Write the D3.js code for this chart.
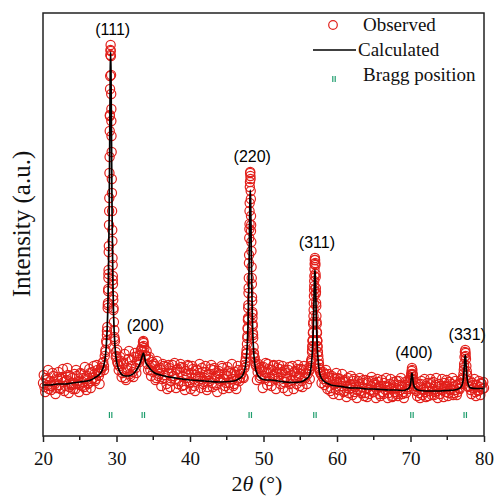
<!DOCTYPE html>
<html>
<head>
<meta charset="utf-8">
<script src="https://cdn.jsdelivr.net/npm/d3@7"></script>
<style>
  body { margin: 0; background: #fff; }
  svg { display: block; }
</style>
</head>
<body>
<svg id="chart" width="494" height="498"></svg>
<script>
// XRD refinement plot: observed points, calculated profile, Bragg positions

var width = 494;
var height = 498;
var margin = { top: 13, right: 10, bottom: 62, left: 43 };
var obsColor = "#e2201b";
var braggColor = "#1f9e6e";
var serif = "'Liberation Serif', 'Times New Roman', serif";

// observed counts on a 0.2 deg step starting at 20.0 ...
var obsStart = 20;
var obsStep = 0.2;
var obsGrid = [
  53,49,58,51,47, 55,50,60,52,48, 57,51,47,59,54, 50,56,61,49,53,
  58,52,47,60,55, 51,62,54,49,57, 60,53,63,55,58, 62,57,66,60,64,
  68,74,80,95,128, 225,391,225,128,95, 80,72,70,75,63, 72,58,66,77,62,
  70,64,79,68,74, 76,81,86,94,88, 80,72,77,66,71, 64,70,58,67,62,
  66,57,70,61,52, 63,68,55,71,60, 57,66,52,64,69, 60,51,65,58,70,
  54,63,67,50,61, 66,55,59,68,52, 58,64,49,62,67, 53,66,58,51,63,
  62,55,68,57,50, 60,65,53,63,57, 52,61,56,66,58, 62,59,68,78,98,
  158,264,158,98,78, 70,64,68,60,66, 69,58,63,72,55, 66,60,71,57,64,
  58,67,62,70,54, 63,57,66,52,61, 56,64,59,67,60, 62,55,66,59,63,
  62,66,70,84,120, 178,120,84,68,62, 60,57,62,54,59, 55,48,58,52,47,
  53,46,57,50,55, 45,54,50,43,52, 48,55,44,51,46, 52,45,49,56,43,
  47,53,42,50,55, 44,51,47,54,42, 50,44,53,46,49, 43,52,47,40,51,
  48,42,55,46,50, 44,51,43,49,47, 55,68,56,50,45, 49,43,52,41,47,
  44,50,40,48,53, 47,41,51,45,49, 42,50,46,53,44, 49,43,47,52,41,
  46,51,44,48,53, 52,62,84,70,55, 50,46,53,48,44, 51,45,49,53,47,
  48
];

// ... and the interleaved points, 20.1 -> 79.9
var obsStartB = 20.1;
var obsGridB = [
  61,44,56,66,50, 46,63,54,42,59, 64,48,57,67,45, 55,68,43,60,51,
  47,62,66,52,44, 63,50,58,69,46, 52,67,48,64,70, 55,71,63,52,68,
  73,66,86,101,158, 320,315,160,106,84, 86,66,79,59,73, 82,56,68,85,60,
  76,59,83,63,80, 74,86,84,90,81, 85,66,79,60,74, 72,56,75,60,68,
  50,72,58,69,47, 71,49,65,60,73, 48,67,55,72,50, 68,46,62,71,53,
  47,70,57,45,66, 59,72,48,64,54, 70,46,61,55,71, 49,68,60,44,65,
  57,70,47,62,53, 69,48,63,72,50, 64,47,70,55,62, 66,58,71,83,117,
  212,205,118,82,74, 56,72,58,69,48, 64,73,51,67,59, 50,70,61,47,68,
  71,52,64,48,66, 59,45,69,55,70, 47,65,52,71,50, 67,49,70,58,52,
  68,57,75,95,150, 142,95,76,66,53, 64,51,66,47,62, 45,60,42,57,63,
  58,41,54,62,44, 56,39,58,47,60, 41,57,49,38,55, 58,43,53,40,56,
  39,55,46,59,44, 53,38,57,49,40, 56,42,50,58,38, 49,57,39,54,44,
  55,40,51,58,42, 38,54,47,56,52, 61,62,47,53,40, 52,38,55,46,57,
  39,53,45,57,41, 54,44,58,38,52, 47,57,39,50,56, 40,54,46,58,43,
  55,41,52,47,56, 58,69,80,61,49, 55,42,51,57,40, 46,55,41,52,54
];

// extra observed points measured on the peak flanks
var obsFine = [
  [28.3,70],[28.5,84],[28.65,93],[28.7,105],[28.75,109],[28.82,131],[28.84,133],[28.86,145],
  [28.88,147],[28.9,162],[28.92,166],[28.94,184],[28.96,190],[28.98,211],[29.02,238],[29.04,263],
  [29.06,279],[29.08,305],[29.1,321],[29.12,347],[29.14,360],[29.16,381],[29.18,386],[29.22,385],
  [29.24,380],[29.26,361],[29.28,342],[29.3,327],[29.32,300],[29.34,284],[29.36,257],[29.38,243],
  [29.42,206],[29.44,195],[29.46,178],[29.48,171],[29.5,156],[29.52,152],[29.54,140],[29.56,136],
  [29.58,126],[29.65,114],[29.7,99],[29.75,97],[29.9,79],[30.1,74],
  [33.5,89],[33.65,95],[33.7,93],
  [47.5,74],[47.65,82],[47.7,86],[47.75,92],[47.82,100],[47.84,108],[47.86,107],[47.88,116],
  [47.9,118],[47.92,128],[47.94,131],[47.96,143],[47.98,148],[48.02,173],[48.04,181],[48.06,198],
  [48.08,207],[48.1,225],[48.12,233],[48.14,249],[48.16,254],[48.18,263],[48.22,260],[48.24,257],
  [48.26,245],[48.28,237],[48.3,220],[48.32,211],[48.34,194],[48.36,185],[48.38,169],[48.42,152],
  [48.44,139],[48.46,135],[48.48,124],[48.5,122],[48.52,112],[48.54,110],[48.56,103],[48.58,101],
  [48.65,89],[48.7,83],[48.75,79],[48.9,72],
  [56.3,66],[56.45,73],[56.5,75],[56.55,77],[56.62,86],[56.64,90],[56.66,89],[56.68,95],
  [56.7,96],[56.72,103],[56.74,104],[56.76,112],[56.78,114],[56.82,126],[56.84,133],[56.86,140],
  [56.88,146],[56.9,155],[56.92,160],[56.94,167],[56.96,172],[56.98,176],[57.02,176],[57.04,173],
  [57.06,171],[57.08,162],[57.1,159],[57.12,148],[57.14,144],[57.16,133],[57.18,130],[57.22,114],
  [57.24,112],[57.26,104],[57.28,103],[57.3,96],[57.32,95],[57.34,90],[57.36,89],[57.38,84],
  [57.45,80],[57.5,72],[57.55,72],[57.7,64],
  [70.05,58],[70.1,62],[70.15,65],[70.25,66],[70.3,61],[70.35,57],
  [77.25,66],[77.3,72],[77.35,79],[77.45,86],[77.5,83],[77.55,77],[77.65,65],[77.7,61]
];

// calculated profile [2theta, intensity]
var calcProfile = [
  [20,51],[21,51],[22,52],[23,52],[24,53],[25,54],[26,55],[26.5,56],[27,58],[27.6,61],[28,65],
  [28.4,75],[28.6,89],[28.8,122],[28.9,157],[29,220],[29.05,266],[29.1,318],[29.15,365],[29.2,384],
  [29.25,365],[29.3,318],[29.35,266],[29.4,220],[29.5,157],[29.6,122],[29.8,89],[30,75],[30.4,65],
  [30.8,61],[31.2,60],[31.6,60],[32,61],[32.4,63],[32.8,67],[33.1,71],[33.3,75],[33.5,80],[33.65,83],
  [33.8,79],[34,73],[34.3,70],[34.7,66],[35.2,63],[36,61],[38,58],[40,56],[42,55],[44,54],[46,55],
  [46.6,57],[47,59],[47.4,65],[47.6,73],[47.8,92],[47.9,113],[48,150],[48.05,177],[48.1,208],
  [48.15,235],[48.2,246],[48.25,235],[48.3,208],[48.35,177],[48.4,150],[48.5,113],[48.6,92],
  [48.8,73],[49,65],[49.4,59],[49.8,57],[50.4,56],[51,56],[52,55],[53,54],[54,53.5],[55,54],
  [55.4,55],[55.8,57],[56.2,60],[56.4,65],[56.6,79],[56.7,92],[56.8,114],[56.85,130],[56.9,146],
  [56.95,160],[57,166],[57.05,160],[57.1,146],[57.15,130],[57.2,114],[57.3,92],[57.4,79],[57.6,64],
  [57.8,59],[58.2,55],[58.6,53],[59.2,51],[60,50],[61,49],[62,48],[63,48],[64,47],[65,47],
  [66,46.5],[67,46],[68,46],[69,45.5],[69.5,46.5],[69.7,47.4],[69.9,49.4],[70,52],[70.05,54.5],
  [70.1,58],[70.15,61],[70.2,63],[70.25,61],[70.3,58],[70.35,54.5],[70.4,52],[70.5,49.4],
  [70.7,47.4],[71,46],[72,45],[73,45],[74,45],[75,45.5],[76,46],[76.75,48.2],[77,50.8],
  [77.15,55.4],[77.25,61.6],[77.3,66.6],[77.35,72.7],[77.4,78.6],[77.45,81],[77.5,78.6],
  [77.55,72.7],[77.6,66.6],[77.65,61.6],[77.75,55.4],[77.9,50.8],[78.15,48.2],[79,47.5],[80,47.5]
];

var braggPos = [29.2, 33.65, 48.2, 57.0, 70.2, 77.45];
var hklLabels = ["(111)", "(200)", "(220)", "(311)", "(400)", "(331)"];
var xTicks = [20, 30, 40, 50, 60, 70, 80];
var xMinorTicks = [25, 35, 45, 55, 65, 75];

var observed = obsGrid.map((v, i) => [obsStart + i * obsStep, v])
  .concat(obsGridB.map((v, i) => [obsStartB + i * obsStep, v]))
  .concat(obsFine);

var svg = d3.select("#chart");
var x = d3.scaleLinear().domain([20, 80]).range([margin.left, width - margin.right]);
var y = d3.scaleLinear().domain([0, 423]).range([height - margin.bottom, margin.top]);

// observed
svg.append("g")
  .selectAll("circle")
  .data(observed)
  .enter().append("circle")
  .attr("cx", d => x(d[0]))
  .attr("cy", d => y(d[1]))
  .attr("r", 4.6)
  .attr("fill", "none")
  .attr("stroke", obsColor)
  .attr("stroke-width", 1.2);

// calculated
var line = d3.line().x(d => x(d[0])).y(d => y(d[1])).curve(d3.curveMonotoneX);
svg.append("path")
  .datum(calcProfile)
  .attr("d", line)
  .attr("fill", "none")
  .attr("stroke", "#000")
  .attr("stroke-width", 1.7);

// Bragg positions
var braggY = 415;
var bragg = svg.append("g");
braggPos.forEach(p => {
  [-1.2, 1.2].forEach(dx => {
    bragg.append("line")
      .attr("x1", x(p) + dx).attr("x2", x(p) + dx)
      .attr("y1", braggY - 3).attr("y2", braggY + 3)
      .attr("stroke", braggColor)
      .attr("stroke-width", 1.2);
  });
});

// peak labels, placed above the highest observed point of each reflection
braggPos.forEach((p, i) => {
  var top = d3.max(observed.filter(d => Math.abs(d[0] - p) < 0.3), d => d[1]);
  svg.append("text")
    .attr("x", x(p) + 2)
    .attr("y", y(top) - 10)
    .attr("text-anchor", "middle")
    .style("font-family", "'Liberation Sans', Arial, sans-serif")
    .style("font-size", "16px")
    .text(hklLabels[i]);
});

// frame
svg.append("rect")
  .attr("x", margin.left).attr("y", margin.top)
  .attr("width", width - margin.left - margin.right)
  .attr("height", height - margin.top - margin.bottom)
  .attr("fill", "none")
  .attr("stroke", "#222")
  .attr("stroke-width", 1.5);

// x axis
var xAxis = svg.append("g")
  .attr("transform", `translate(0,${height - margin.bottom})`)
  .call(d3.axisBottom(x).tickValues(xTicks).tickSize(6).tickFormat(d3.format("d")));
xAxis.select(".domain").remove();
xAxis.selectAll("line").attr("stroke", "#222").attr("stroke-width", 1.5);
xAxis.selectAll("text")
  .attr("dy", null).attr("y", 29)
  .style("font-family", serif)
  .style("font-size", "19px")
  .attr("fill", "#111");

svg.append("g")
  .selectAll("line")
  .data(xMinorTicks)
  .enter().append("line")
  .attr("x1", d => x(d)).attr("x2", d => x(d))
  .attr("y1", height - margin.bottom).attr("y2", height - margin.bottom + 4)
  .attr("stroke", "#222")
  .attr("stroke-width", 1.5);

// axis titles
var xLabel = svg.append("text")
  .attr("x", 257).attr("y", 491)
  .attr("text-anchor", "middle")
  .style("font-family", serif)
  .style("font-size", "22px")
  .attr("fill", "#111");
xLabel.append("tspan").text("2");
xLabel.append("tspan").style("font-style", "italic").text("θ");
xLabel.append("tspan").text(" (°)");

svg.append("text")
  .attr("transform", "translate(30,224) rotate(-90)")
  .attr("text-anchor", "middle")
  .style("font-family", serif)
  .style("font-size", "25px")
  .attr("fill", "#111")
  .text("Intensity (a.u.)");

// legend
var legend = svg.append("g")
  .style("font-family", serif)
  .style("font-size", "19px")
  .attr("fill", "#111");

legend.append("circle")
  .attr("cx", 333).attr("cy", 25).attr("r", 4.3)
  .attr("fill", "none").attr("stroke", obsColor).attr("stroke-width", 1.2);
legend.append("text").attr("x", 363).attr("y", 31).text("Observed");

legend.append("line")
  .attr("x1", 313).attr("x2", 356).attr("y1", 50).attr("y2", 50)
  .attr("stroke", "#000").attr("stroke-width", 1.7);
legend.append("text").attr("x", 358).attr("y", 56).text("Calculated");

[-1.2, 1.2].forEach(dx => {
  legend.append("line")
    .attr("x1", 334 + dx).attr("x2", 334 + dx)
    .attr("y1", 76).attr("y2", 82)
    .attr("stroke", braggColor).attr("stroke-width", 1.2);
});
legend.append("text").attr("x", 363).attr("y", 81).text("Bragg position");
</script>
</body>
</html>
